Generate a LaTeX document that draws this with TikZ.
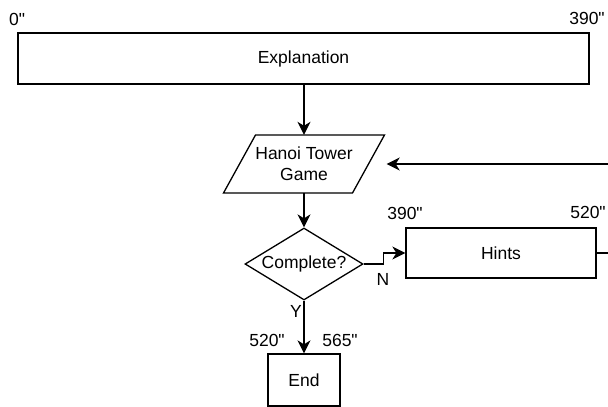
\documentclass[tikz,border=0pt]{standalone}
\usepackage{fontspec}
\setmainfont{Liberation Sans}[Ligatures=TeXOff]
\usetikzlibrary{shapes.geometric,arrows.meta}

\tikzset{
  box/.style={draw, line width=1.3pt, rectangle, inner sep=0pt, align=center},
  decision/.style={draw, line width=1.3pt, diamond, aspect=1.64, inner sep=0pt,
                   minimum width=118pt, minimum height=72pt},
  plain/.style={inner sep=0pt},
  arr/.style={line width=1.3pt, -{Stealth[length=13pt,width=13pt,inset=4pt]}},
}

\begin{document}
\begin{tikzpicture}[x=1pt, y=-1pt, font=\fontsize{17.5}{21}\selectfont]
  \useasboundingbox (0,0) rectangle (608,407);
  \begin{scope}
    \clip (0,0) rectangle (608,407);

    % process boxes
    \node[box, minimum width=571pt, minimum height=51pt] (expl) at (303.5,58.5) {Explanation};
    \node[box, minimum width=190pt, minimum height=50pt] (hints) at (501,253) {Hints};
    \node[box, minimum width=72pt, minimum height=52pt] (end) at (304,380) {End};

    % input/output parallelogram
    \node[plain, align=center, minimum width=161pt, minimum height=58pt] (game) at (304,164)
      {Hanoi Tower\\Game};
    \draw[line width=1.3pt, line join=miter]
      (255.5,135) -- (384.5,135) -- (352.5,193) -- (223.5,193) -- cycle;

    % decision
    \node[decision] (comp) at (304,264) {Complete?};

    % time marks
    \node[plain] (t0)   at (17,19)   {0"};
    \node[plain] (t390) at (587,18)  {390"};
    \node[plain] (h390) at (405,213) {390"};
    \node[plain] (h520) at (588,212) {520"};
    \node[plain] (e520) at (267,340) {520"};
    \node[plain] (e565) at (340,340) {565"};

    % branch labels
    \node[plain] (lblN) at (383,279) {N};
    \node[plain] (lblY) at (296,311) {Y};

    % connectors
    \draw[arr] (expl.south -| game.north) -- (game.north);
    \draw[arr] (game.south) -- (comp.north);
    \draw[arr] (comp.east) -- ++(20,0) |- (hints.west);
    \draw[arr] (comp.south) -- (end.north);
    \draw[arr, shorten >=2pt] (hints.east) -- ++(30,0) |- (game.east);
  \end{scope}
\end{tikzpicture}
\end{document}
